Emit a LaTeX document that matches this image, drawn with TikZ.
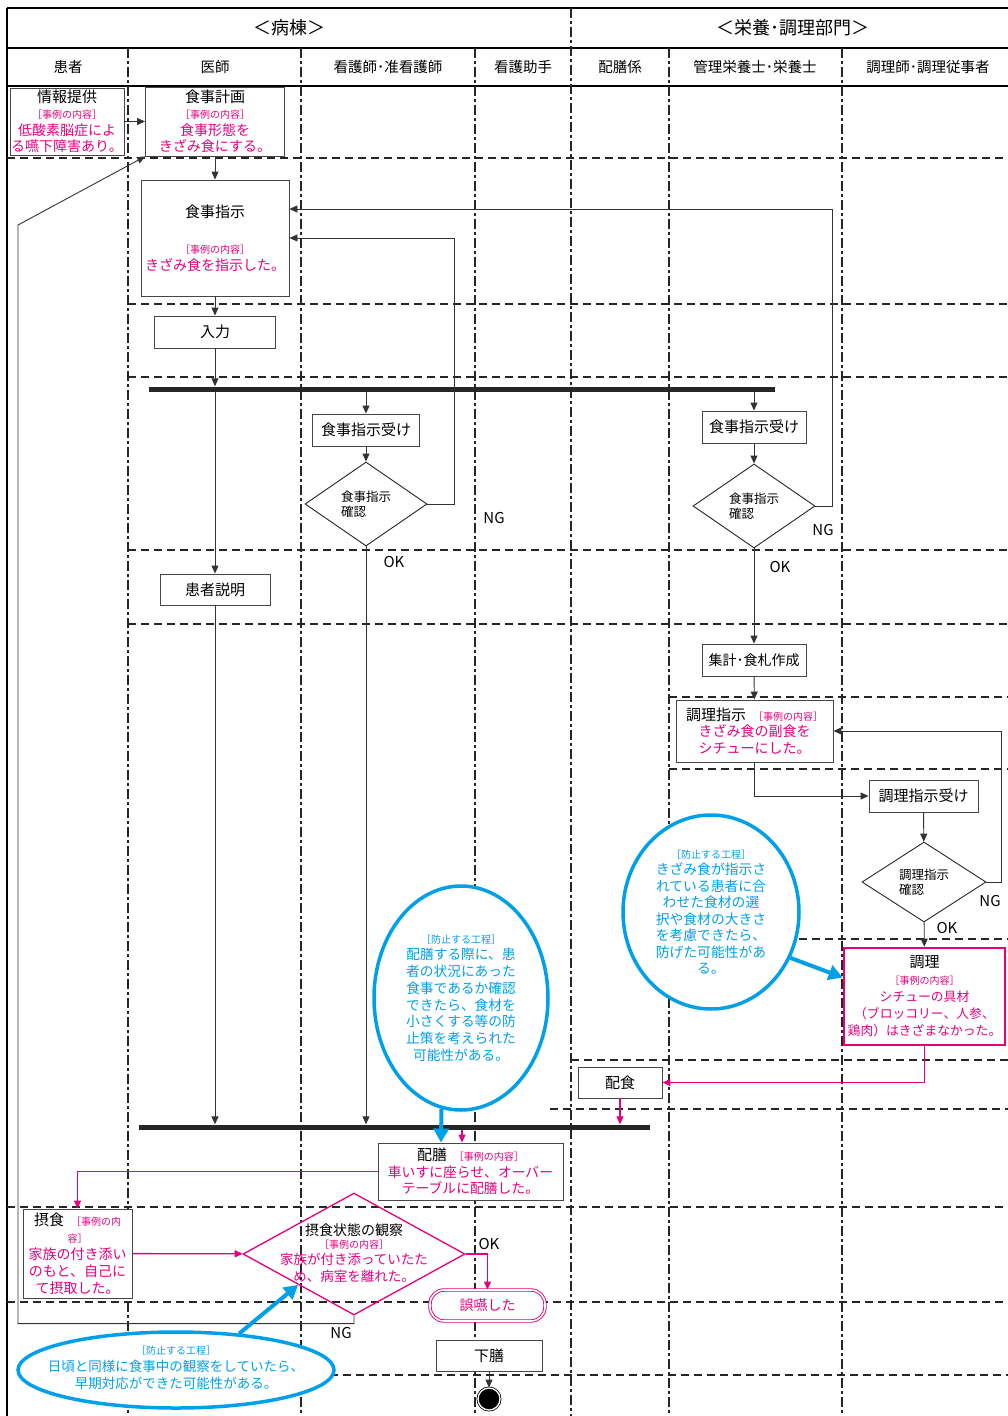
\documentclass[tikz,border=0pt]{standalone}
\usepackage{fontspec}
\setmainfont{Noto Sans CJK JP}
\usetikzlibrary{arrows.meta,shapes.geometric}
\definecolor{casepink}{RGB}{230,0,126}
\definecolor{notecyan}{RGB}{0,160,233}
\definecolor{boxgray}{RGB}{70,70,70}
\newcommand{\fsT}{\fontsize{15}{18}\selectfont}
\newcommand{\fsP}{\fontsize{14}{16.5}\selectfont}
\newcommand{\fsS}{\fontsize{10}{12}\selectfont}
\newcommand{\ttl}[1]{{\fsT #1}}
\newcommand{\pk}[1]{{\color{casepink}#1}}
\newcommand{\caselbl}{{\fsS\color{casepink}［事例の内容］}}
\newcommand{\stoplbl}{{\fsS［防止する工程］}}

\begin{document}
\begin{tikzpicture}[x=1pt, y=-1pt, font=\fsP,
  box/.style={draw=boxgray, line width=0.9, fill=white, inner sep=0, align=center},
  pinkbox/.style={box, draw=casepink, line width=2.6},
  check/.style={diamond, draw=black!85, line width=0.9, aspect=1.45, inner sep=0, align=left, font=\fontsize{12.5}{15}\selectfont},
  bar/.style={fill=black!85, inner sep=0, minimum height=5},
  flow/.style={draw=black!80, line width=0.9, -{Triangle[length=8pt,width=7pt]}},
  pinkflow/.style={flow, draw=casepink, line width=1.3},
  note/.style={ellipse, draw=notecyan, line width=3.5, fill=white, inner sep=0, text=notecyan, align=center},
  notearrow/.style={draw=notecyan, line width=4, -{Triangle[length=14pt,width=15pt]}},
  lane/.style={line width=2, black!85, dash pattern=on 10pt off 3pt on 3pt off 3pt},
  row/.style={line width=2, black!85, dash pattern=on 8pt off 5pt},
  lbl/.style={font=\fontsize{15}{18}\selectfont}]
\useasboundingbox (0,0) rectangle (1008,1416);
% frame and header
\draw[line width=2.2] (7,8) -- (1008,8);
\draw[line width=1.6] (7,48) -- (1008,48);
\draw[line width=1.6] (7,86) -- (1008,86);
\draw[line width=1.6] (7,8) -- (7,1416);
\draw[lane] (571,8) -- (571,1416);
\foreach \x in {128,301,475,669,842}
  \draw[lane] (\x,48) -- (\x,1416);
% row separators
\foreach \y/\a in {158/7,304/128,377/128,550/128,624/128,697/669,769/669,939/669,1060/571,1109/550,1207/7,1302/7,1375/18}
  \draw[row] (\a,\y) -- (1008,\y);
\node[font=\fontsize{18}{20}\selectfont] (ward) at (289,28) {＜病棟＞};
\node[font=\fontsize{18}{20}\selectfont] (dept) at (793,28) {＜栄養･調理部門＞};
\foreach \x/\t [count=\i] in {68/患者,215/医師,388/看護師･准看護師,523/看護助手,620/配膳係,755/管理栄養士･栄養士,928/調理師･調理従事者}
  \node[font=\fontsize{14.5}{17}\selectfont] (lane\i) at (\x,67) {\t};
% ward side
\node[box, minimum width=114, minimum height=67] (info) at (67,121.5)
  {\ttl{情報提供}\\\caselbl\\\pk{低酸素脳症によ}\\\pk{る嚥下障害あり。}};
\node[box, minimum width=139, minimum height=69] (plan) at (215,121.5)
  {\ttl{食事計画}\\\caselbl\\\pk{食事形態を}\\\pk{きざみ食にする。}};
\node[box, minimum width=148, minimum height=116] (order) at (215,238)
  {\ttl{食事指示}\\[20pt]\caselbl\\\pk{きざみ食を指示した。}};
\node[box, minimum width=121, minimum height=32] (input) at (215,332) {\ttl{入力}};
\node[bar, minimum width=626] (bar1) at (462,389) {};
\node[box, minimum width=107, minimum height=32] (recvN) at (366,430) {\ttl{食事指示受け}};
\node[check, minimum width=122, minimum height=84] (chkN) at (366,504) {食事指示\\確認};
\node[box, minimum width=110, minimum height=31] (explain) at (215,589.5) {\ttl{患者説明}};
% nutrition side
\node[box, minimum width=104, minimum height=32] (recvD) at (754,427) {\ttl{食事指示受け}};
\node[check, minimum width=122, minimum height=84] (chkD) at (754,506) {食事指示\\確認};
\node[box, minimum width=104, minimum height=32] (tally) at (754,660) {集計･食札作成};
\node[box, minimum width=157, minimum height=62] (cookord) at (754.5,731)
  {\ttl{調理指示}\enspace\caselbl\\\pk{きざみ食の副食を}\\\pk{シチューにした。}};
\node[box, minimum width=109, minimum height=32] (cookrecv) at (923.5,796) {\ttl{調理指示受け}};
\node[check, minimum width=124, minimum height=80] (chkC) at (924,882) {調理指示\\確認};
\node[pinkbox, minimum width=161, minimum height=97, font=\fontsize{12.8}{17}\selectfont] (cook) at (924.5,996.5)
  {\ttl{調理}\\\caselbl\\\pk{シチューの具材}\\\pk{（ブロッコリー、人参、}\\\pk{鶏肉）はきざまなかった。}};
\node[box, minimum width=84, minimum height=31] (deliver) at (620,1082.5) {\ttl{配食}};
% serving and eating
\node[bar, minimum width=511] (bar2) at (394.5,1127) {};
\node[box, minimum width=185, minimum height=57, font=\fontsize{13.8}{16.5}\selectfont] (serve) at (470.5,1171.5)
  {\ttl{配膳}\enspace\caselbl\\\pk{車いすに座らせ、オーバー}\\\pk{テーブルに配膳した。}};
\node[box, minimum width=109, minimum height=89, font=\fontsize{14}{17}\selectfont] (eat) at (77.5,1253.5)
  {\ttl{摂食}\enspace{\fsS\color{casepink}［事例の内}\\{\fsS\color{casepink}容］}\\\pk{家族の付き添い}\\\pk{のもと、自己に}\\\pk{て摂取した。}};
\node[diamond, draw=casepink, line width=1.3, inner sep=0, minimum width=222, minimum height=122] (obs) at (354,1254) {};
\node[align=center, font=\fontsize{13.5}{16.5}\selectfont] (obstxt) at (354,1253)
  {{\fontsize{14}{16}\selectfont 摂食状態の観察}\\[-4pt]\caselbl\\\pk{家族が付き添っていたた}\\\pk{め、病室を離れた。}};
\node[box, draw=casepink, rounded corners=14, double=white, double distance=1.6pt, line width=0.9, minimum width=115, minimum height=31] (asp) at (487.5,1305.5) {\pk{誤嚥した}};
\node[box, minimum width=106, minimum height=31] (clear) at (489,1355.5) {\ttl{下膳}};
\node[circle, fill=black, draw=black, double=white, double distance=1.3pt, line width=0.8, minimum size=22, inner sep=0] (fin) at (489,1399) {};
% prevention notes
\node[note, minimum width=174, minimum height=224, font=\fontsize{13.7}{16.7}\selectfont] (noteA) at (461,998)
  {\stoplbl\\配膳する際に、患\\者の状況にあった\\食事であるか確認\\できたら、食材を\\小さくする等の防\\止策を考えられた\\可能性がある。};
\node[note, minimum width=176, minimum height=194, font=\fontsize{13.8}{16.5}\selectfont] (noteB) at (711,912)
  {\stoplbl\\きざみ食が指示さ\\れている患者に合\\わせた食材の選\\択や食材の大きさ\\を考慮できたら、\\防げた可能性があ\\る。};
\node[note, minimum width=316, minimum height=76] (noteC) at (176,1370) {};
\node[align=center, text=notecyan, font=\fontsize{13.5}{17}\selectfont] (noteCtxt) at (176,1368)
  {\stoplbl\\日頃と同様に食事中の観察をしていたら、\\早期対応ができた可能性がある。};
% flow
\draw[flow] (info) -- (plan);
\draw[flow] (plan) -- (order);
\draw[flow] (order) -- (input);
\draw[flow] (input) -- (input |- bar1.north);
\draw[flow] (bar1.south -| recvN) -- (recvN);
\draw[flow] (bar1.south -| recvD) -- (recvD);
\draw[flow] (bar1.south -| explain) -- (explain);
\draw[flow] (recvN) -- (chkN);
\draw[flow] (recvD) -- (chkD);
\draw[flow] (chkN.east) -- ++(27,0) |- (order.east);
\draw[flow] (chkD.east) -- ++(17,0) |- ([yshift=29]order.east);
\draw[flow] (chkN.south) -- (chkN.south |- bar2.north);
\draw[flow] (explain) -- (explain |- bar2.north);
\draw[flow] (chkD) -- (tally);
\draw[flow] (tally) -- (cookord);
\draw[flow] (cookord.south) |- (cookrecv.west);
\draw[flow] (cookrecv) -- (chkC);
\draw[flow] (chkC.east) -- ++(15,0) |- (cookord.east);
\draw[flow] (chkC) -- (cook);
\draw[pinkflow] (cook.south) |- (deliver.east);
\draw[pinkflow] (deliver) -- (deliver |- bar2.north);
\draw[pinkflow] ([xshift=-8.5]serve.north |- bar2.south) -- ([xshift=-8.5]serve.north);
\draw[pinkflow] (serve.west) -| (eat.north);
\draw[pinkflow] (eat) -- (obs);
\draw[pinkflow] (obs.east) -| (asp.north);
\coordinate (ngturn) at (18,225);
\draw[flow] (obs.south) -- ++(0,8) -| (ngturn) -- (plan.south west);
\draw[flow] (clear) -- (fin);
% note arrows
\draw[notearrow] (noteA.260) -- ([xshift=-29.5]serve.north);
\draw[notearrow] (noteB.-30) -- ([yshift=19]cook.west);
\draw[notearrow] (noteC.30) -- (obs.south west);
% OK / NG
\node[lbl] (ngN) at (494,518) {NG};
\node[lbl] (okN) at (394,562) {OK};
\node[lbl] (ngD) at (823,530) {NG};
\node[lbl] (okD) at (780,567) {OK};
\node[lbl] (ngC) at (990,901) {NG};
\node[lbl] (okC) at (947,928) {OK};
\node[lbl] (okO) at (489,1244) {OK};
\node[lbl] (ngO) at (341,1333) {NG};
\end{tikzpicture}
\end{document}
